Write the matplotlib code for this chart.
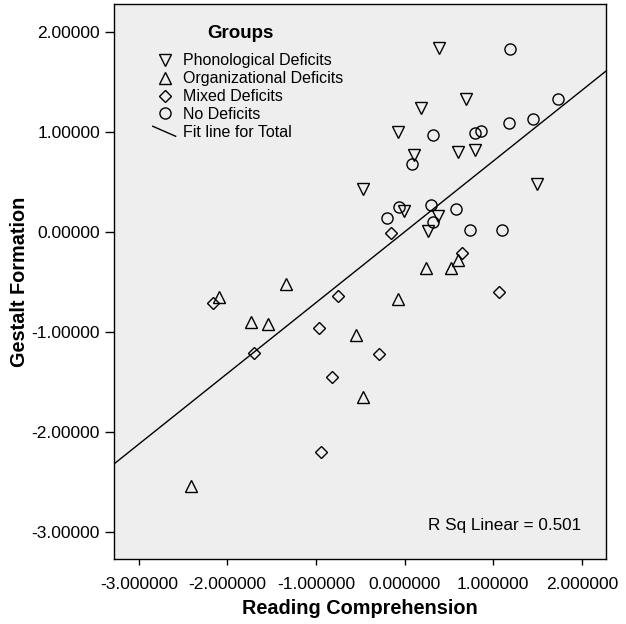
import numpy as np
import matplotlib
matplotlib.use("Agg")
import matplotlib.pyplot as plt
from matplotlib.lines import Line2D
from matplotlib.legend_handler import HandlerLine2D
from matplotlib.ticker import FormatStrFormatter

plt.rcParams['font.family'] = ['Liberation Sans', 'DejaVu Sans']

# Reading Comprehension (x) / Gestalt Formation (y) per group
phon_x = [0.387, 0.691, 0.184, -0.076, 0.105, 0.601, 0.793, -0.470, 1.497, -0.008, 0.375, 0.263]
phon_y = [1.837, 1.327, 1.237, 0.997, 0.767, 0.797, 0.817, 0.427, 0.477, 0.207, 0.157, 0.007]

org_x = [0.240, 0.522, 0.601, -0.076, -1.338, -2.093, -1.733, -1.541, -0.549, -0.470, -2.409]
org_y = [-0.363, -0.363, -0.283, -0.673, -0.523, -0.653, -0.903, -0.923, -1.033, -1.643, -2.533]

mixed_x = [-0.154, 0.646, 1.063, -0.752, -2.161, -0.966, -1.699, -0.290, -0.820, -0.944]
mixed_y = [-0.013, -0.213, -0.603, -0.643, -0.713, -0.963, -1.213, -1.223, -1.453, -2.193]

none_x = [1.187, 1.728, 1.446, 1.176, 0.860, 0.793, 0.319, 0.082, -0.064, -0.200, 0.296, 0.319, 0.578, 0.736, 1.097]
none_y = [1.827, 1.327, 1.127, 1.087, 1.007, 0.987, 0.967, 0.677, 0.247, 0.137, 0.267, 0.097, 0.227, 0.017, 0.017]

r_sq_text = "R Sq Linear = 0.501"
x_ticks = [-3, -2, -1, 0, 1, 2]
y_ticks = [-3, -2, -1, 0, 1, 2]


class HandlerDiagonal(HandlerLine2D):
    # fit line shown as a short slanted stroke in the legend
    def create_artists(self, legend, orig_handle, xdescent, ydescent,
                       width, height, fontsize, trans):
        cx = width / 2 - xdescent
        cy = height / 2 - ydescent
        line = Line2D([cx - 9, cx + 7.5], [cy + 3.6, cy - 3.6],
                      color='black', linewidth=1.0)
        line.set_transform(trans)
        return [line]


fig = plt.figure(figsize=(6.26, 6.24), dpi=100)
ax = fig.add_axes([0.1821, 0.1037, 0.7855, 0.8899])
ax.set_facecolor('#eeeeee')

mk = dict(linestyle='none', markerfacecolor='none', markeredgecolor='black',
          markeredgewidth=1.0)
h1, = ax.plot(phon_x, phon_y, marker='v', markersize=9, label='Phonological Deficits', **mk)
h2, = ax.plot(org_x, org_y, marker='^', markersize=9, label='Organizational Deficits', **mk)
h3, = ax.plot(mixed_x, mixed_y, marker='D', markersize=6.5, label='Mixed Deficits', **mk)
h4, = ax.plot(none_x, none_y, marker='o', markersize=8, label='No Deficits', **mk)

# linear fit over all groups
all_x = np.array(phon_x + org_x + mixed_x + none_x)
all_y = np.array(phon_y + org_y + mixed_y + none_y)
slope, intercept = np.polyfit(all_x, all_y, 1)
xlim = (-3.28, 2.27)
xs = np.array(xlim)
h5, = ax.plot(xs, slope * xs + intercept, color='black', linewidth=1.0, label='Fit line for Total')

ax.set_xlim(*xlim)
ax.set_ylim(-3.27, 2.28)
ax.set_xticks(x_ticks)
ax.set_yticks(y_ticks)
ax.xaxis.set_major_formatter(FormatStrFormatter('%.6f'))
ax.yaxis.set_major_formatter(FormatStrFormatter('%.5f'))
ax.tick_params(axis='x', length=4.6, width=1, labelsize=12.5, pad=8)
ax.tick_params(axis='y', length=6.5, width=1, labelsize=12.5, pad=3.5)
for s in ax.spines.values():
    s.set_linewidth(1.0)

ax.set_xlabel('Reading Comprehension', fontsize=14.3, fontweight='bold', labelpad=5)
ax.set_ylabel('Gestalt Formation', fontsize=14.3, fontweight='bold', labelpad=2)

ax.text(0.258, 0.946, 'Groups', transform=ax.transAxes, ha='center', va='center',
        fontsize=13.5, fontweight='bold')
ax.legend(handles=[h1, h2, h3, h4, h5], loc='upper left',
          bbox_to_anchor=(0.075, 0.9226), frameon=False, fontsize=11.5,
          handlelength=1.0, handletextpad=0.6, labelspacing=0.18,
          borderaxespad=0, handler_map={h5: HandlerDiagonal()})

ax.text(0.95, 0.06, r_sq_text, transform=ax.transAxes, ha='right', va='center', fontsize=12.3)

fig.savefig('out.png', dpi=100)
